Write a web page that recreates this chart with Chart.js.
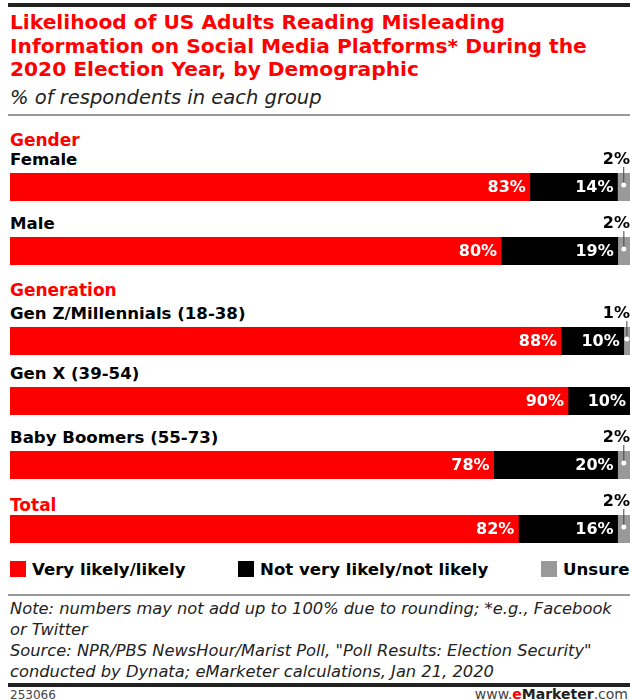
<!DOCTYPE html>
<html>
<head>
<meta charset="utf-8">
<script src="https://cdn.jsdelivr.net/npm/chart.js@4"></script>
<style>
  html, body { margin: 0; padding: 0; background: #fff; }
  #page { position: relative; width: 630px; height: 700px; overflow: hidden; font-family: "DejaVu Sans", sans-serif; }
  .abs { position: absolute; white-space: nowrap; }
  .rule { position: absolute; left: 8px; right: 0; }
  .title { left: 10px; top: 11px; color: #ff0000; font-weight: bold; font-size: 20.2px; line-height: 23.5px; }
  .sub { left: 10px; top: 86px; font-style: italic; font-size: 19.5px; line-height: 23px; color: #222; }
  .group { left: 10px; color: #ff0000; font-weight: bold; font-size: 17px; line-height: 20px; }
  .row { left: 10px; color: #000; font-weight: bold; font-size: 16.6px; line-height: 20px; }
  .rowchart { position: absolute; left: 10px; width: 620px; height: 50px; }
  .legend { font-weight: bold; font-size: 16.6px; line-height: 20px; }
  .sw { display: inline-block; width: 16px; height: 16px; vertical-align: -2px; margin-right: 6px; }
  .note { left: 10px; top: 598px; font-style: italic; font-size: 16.3px; line-height: 21px; color: #222; }
  .foot { font-size: 12px; line-height: 14px; color: #444; }
</style>
</head>
<body>
<div id="page">
  <div class="rule" style="top:3px;height:4px;background:#222;"></div>
  <div class="abs title">Likelihood of US Adults Reading Misleading<br>Information on Social Media Platforms* During the<br>2020 Election Year, by Demographic</div>
  <div class="abs sub">% of respondents in each group</div>
  <div class="rule" style="top:114px;height:2px;background:#999;"></div>

  <div class="abs legend" style="left:10px;top:560px;"><span class="sw" style="background:#ff0000"></span>Very likely/likely</div>
  <div class="abs legend" style="left:238px;top:560px;"><span class="sw" style="background:#000"></span>Not very likely/not likely</div>
  <div class="abs legend" style="left:541px;top:560px;"><span class="sw" style="background:#999"></span>Unsure</div>

  <div class="rule" style="top:594px;height:2px;background:#999;"></div>
  <div class="abs note">Note: numbers may not add up to 100% due to rounding; *e.g., Facebook<br>or Twitter<br>Source: NPR/PBS NewsHour/Marist Poll, "Poll Results: Election Security"<br>conducted by Dynata; eMarketer calculations, Jan 21, 2020</div>
  <div class="rule" style="top:683px;height:4px;background:#222;"></div>
  <div class="abs foot" style="left:10px;top:688px;">253066</div>
  <div class="abs foot" style="right:2px;top:686px;font-size:14px;line-height:16px;">www.<b style="color:#ff0000">e</b><b style="color:#222">Marketer</b>.com</div>
</div>

<script>
// data
const groups = ["Gender", "Generation", "Total"];
const categories = ["Female", "Male", "Gen Z/Millennials (18-38)", "Gen X (39-54)", "Baby Boomers (55-73)", "Total"];
const categoryGroup = ["Gender", "Gender", "Generation", "Generation", "Generation", "Total"];
const veryLikely = [83, 80, 88, 90, 78, 82];
const notLikely = [14, 19, 10, 10, 20, 16];
const unsure = [2, 2, 1, 0, 2, 2];
const seriesNames = ["Very likely/likely", "Not very likely/not likely", "Unsure"];
const seriesColors = ["#ff0000", "#000000", "#999999"];

// layout (top of each bar in px)
const barTops = [173, 237, 327, 387, 451, 515];
const groupTops = { Gender: 130, Generation: 280, Total: 495 };
const LABEL_SPACE = 22;

const valueLabels = {
  id: "valueLabels",
  afterDatasetsDraw(chart) {
    const ctx = chart.ctx;
    ctx.save();
    chart.data.datasets.forEach((ds, di) => {
      const meta = chart.getDatasetMeta(di);
      meta.data.forEach((bar, i) => {
        const v = ds.data[i];
        if (!v) return;
        if (di < 2) {
          ctx.font = "bold 16px 'DejaVu Sans', sans-serif";
          ctx.fillStyle = "#fff";
          ctx.textAlign = "right";
          ctx.textBaseline = "middle";
          ctx.fillText(v + "%", Math.min(bar.x, chart.chartArea.right) - 4, bar.y + 1);
        } else {
          const cx = (bar.x + bar.base) / 2;
          const top = bar.y - bar.height / 2;
          ctx.font = "bold 16px 'DejaVu Sans', sans-serif";
          ctx.fillStyle = "#000";
          ctx.textAlign = "right";
          ctx.textBaseline = "alphabetic";
          ctx.fillText(v + "%", chart.width, top - 9);
          ctx.strokeStyle = "#444";
          ctx.lineWidth = 1;
          ctx.beginPath();
          ctx.moveTo(cx, top - 6);
          ctx.lineTo(cx, bar.y - 3);
          ctx.stroke();
          ctx.fillStyle = "#fff";
          ctx.beginPath();
          ctx.arc(cx, bar.y - 2, 2.5, 0, Math.PI * 2);
          ctx.fill();
        }
      });
    });
    ctx.restore();
  }
};

const page = document.getElementById("page");

groups.forEach((g) => {
  const el = document.createElement("div");
  el.className = "abs group";
  el.style.top = groupTops[g] + "px";
  el.textContent = g;
  page.appendChild(el);
});

categories.forEach((cat, i) => {
  if (cat !== categoryGroup[i]) {
    const lab = document.createElement("div");
    lab.className = "abs row";
    lab.style.top = (barTops[i] - 23) + "px";
    lab.textContent = cat;
    page.appendChild(lab);
  }
  const box = document.createElement("div");
  box.className = "rowchart";
  box.style.top = (barTops[i] - LABEL_SPACE) + "px";
  const canvas = document.createElement("canvas");
  canvas.width = 620;
  canvas.height = LABEL_SPACE + 28;
  box.appendChild(canvas);
  page.appendChild(box);

  // each bar fills the full width (shares of its own row total)
  const rowTotal = veryLikely[i] + notLikely[i] + unsure[i];

  new Chart(canvas.getContext("2d"), {
    type: "bar",
    data: {
      labels: [cat],
      datasets: [
        { label: seriesNames[0], data: [veryLikely[i]], backgroundColor: seriesColors[0] },
        { label: seriesNames[1], data: [notLikely[i]], backgroundColor: seriesColors[1] },
        { label: seriesNames[2], data: [unsure[i]], backgroundColor: seriesColors[2] },
      ],
    },
    options: {
      indexAxis: "y",
      responsive: false,
      animation: false,
      layout: { padding: { top: LABEL_SPACE, left: 0, right: 0, bottom: 0 } },
      datasets: { bar: { barPercentage: 1, categoryPercentage: 1, borderWidth: 0 } },
      plugins: { legend: { display: false }, tooltip: { enabled: false } },
      scales: {
        x: { stacked: true, min: 0, max: rowTotal, display: false },
        y: { stacked: true, display: false },
      },
    },
    plugins: [valueLabels],
  });
});
</script>
</body>
</html>
